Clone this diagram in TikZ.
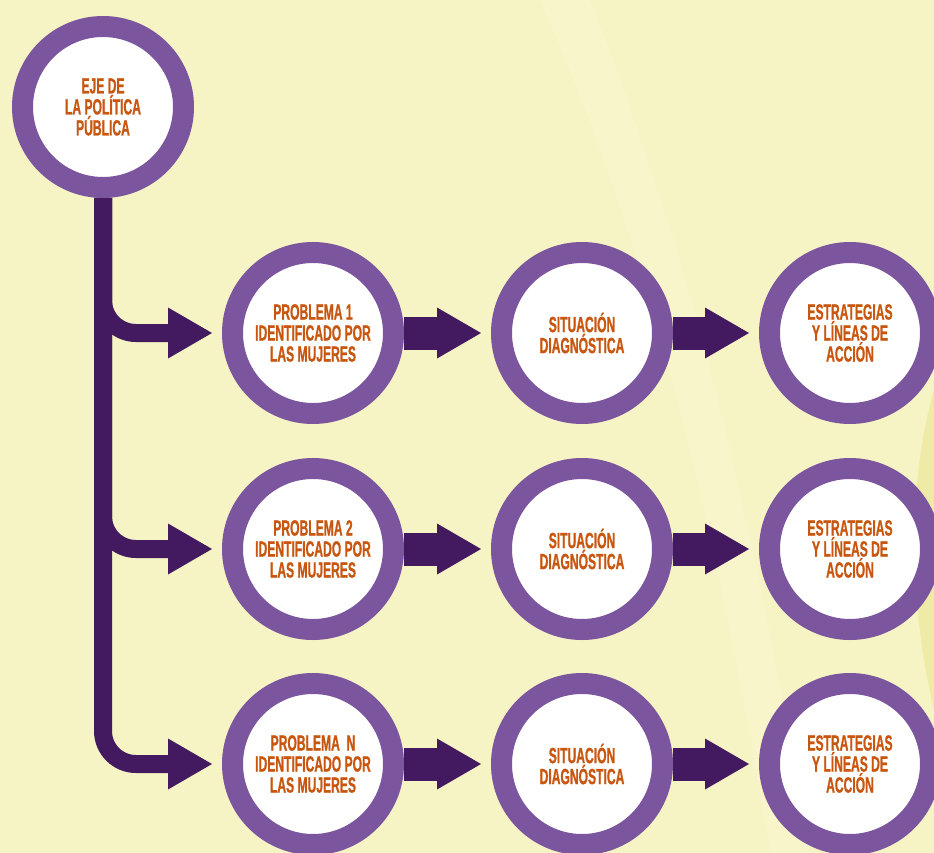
\documentclass[tikz,border=0pt]{standalone}
\usepackage{fontspec}
\setmainfont{Liberation Sans}[FakeStretch=0.55,FakeBold=0.8]
\usetikzlibrary{calc,backgrounds}
\definecolor{bgyellow}{HTML}{F6F4C4}
\definecolor{bgdark}{HTML}{EFEBA6}
\definecolor{bglight}{HTML}{F7F5C9}
\definecolor{ringpurple}{HTML}{7B559E}
\definecolor{arrowpurple}{HTML}{43195F}
\definecolor{textorange}{HTML}{C9560F}
\newcommand\flowhead[1]{\fill[arrowpurple] ($(#1.west)+(-54,25.5)$) -- ($(#1.west)+(-10,0)$) -- ($(#1.west)+(-54,-25.5)$) -- cycle;}
\tikzset{
  ring/.style={circle, draw=ringpurple, line width=21pt, fill=white, minimum size=161pt,
    inner sep=0pt, align=center, text=textorange,
    font=\bfseries\fontsize{22}{21}\selectfont},
  stemline/.style={draw=arrowpurple, line width=18pt, rounded corners=33pt},
  shaft/.style={draw=arrowpurple, line width=33pt}
}
\begin{document}
\begin{tikzpicture}[x=1pt,y=-1pt]
\useasboundingbox (0,0) rectangle (934,853);
% circles
\node[ring] (e) at (103,107) {EJE DE\\LA POLÍTICA\\PÚBLICA};
\node[ring] (p1) at (313,333) {PROBLEMA 1\\IDENTIFICADO POR\\LAS MUJERES};
\node[ring] (s1) at (582,333) {SITUACIÓN\\DIAGNÓSTICA};
\node[ring] (a1) at (850,333) {ESTRATEGIAS\\Y LÍNEAS DE\\ACCIÓN};
\node[ring] (p2) at (313,549) {PROBLEMA 2\\IDENTIFICADO POR\\LAS MUJERES};
\node[ring] (s2) at (582,549) {SITUACIÓN\\DIAGNÓSTICA};
\node[ring] (a2) at (850,549) {ESTRATEGIAS\\Y LÍNEAS DE\\ACCIÓN};
\node[ring] (p3) at (313,764) {PROBLEMA\ \ N\\IDENTIFICADO POR\\LAS MUJERES};
\node[ring] (s3) at (582,764) {SITUACIÓN\\DIAGNÓSTICA};
\node[ring] (a3) at (850,764) {ESTRATEGIAS\\Y LÍNEAS DE\\ACCIÓN};
\begin{scope}[on background layer]
  \fill[bgyellow] (0,0) rectangle (934,853);
  \fill[bglight] (540,0) .. controls (650,250) and (710,500) .. (770,853) -- (810,853) .. controls (750,500) and (690,250) .. (590,0) -- cycle;
  \fill[bgdark] (934,390) .. controls (908,480) and (908,600) .. (934,710) -- cycle;
  % stem and branches
  \draw[stemline] (e.south) |- ($(p3.west)+(-53,0)$);
  \draw[stemline] (e.south) |- ($(p2.west)+(-53,0)$);
  \draw[stemline] (e.south) |- ($(p1.west)+(-53,0)$);
  \flowhead{p1}
  \flowhead{p2}
  \flowhead{p3}
  % row arrows
  \draw[shaft] (p1.east) -- ($(s1.west)+(-53,0)$); \flowhead{s1}
  \draw[shaft] (s1.east) -- ($(a1.west)+(-53,0)$); \flowhead{a1}
  \draw[shaft] (p2.east) -- ($(s2.west)+(-53,0)$); \flowhead{s2}
  \draw[shaft] (s2.east) -- ($(a2.west)+(-53,0)$); \flowhead{a2}
  \draw[shaft] (p3.east) -- ($(s3.west)+(-53,0)$); \flowhead{s3}
  \draw[shaft] (s3.east) -- ($(a3.west)+(-53,0)$); \flowhead{a3}
\end{scope}
\end{tikzpicture}
\end{document}
